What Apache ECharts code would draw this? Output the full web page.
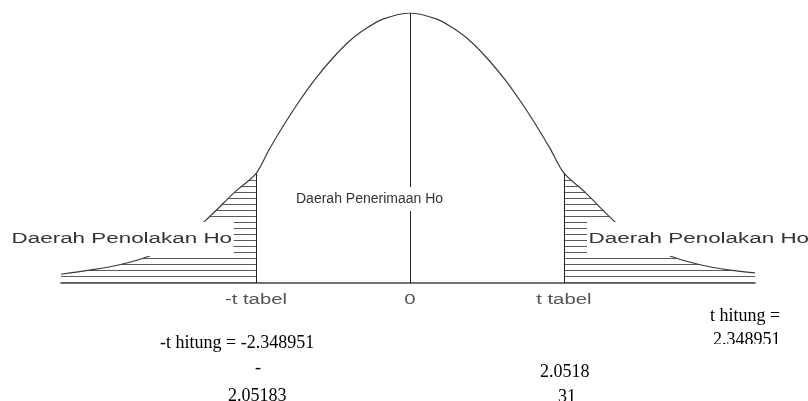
<!DOCTYPE html>
<html>
<head>
<meta charset="utf-8">
<script src="https://cdn.jsdelivr.net/npm/echarts@6/dist/echarts.min.js"></script>
<style>
html, body { margin: 0; padding: 0; background: #fff; }
#main { width: 808px; height: 401px; }
</style>
</head>
<body>
<div id="main"></div>
<script>
// values
var tTabel = 2.0518;
var tValues = [-4.65, -4.27, -3.87, -3.47, -3.07, -2.73, -2.33, -2.0518, -1.87, -1.67, -1.47, -1.27, -1.03, -0.8, -0.57, -0.36, 0,
    0.36, 0.57, 0.8, 1.03, 1.27, 1.47, 1.67, 1.87, 2.0518, 2.33, 2.73, 3.07, 3.47, 3.87, 4.27, 4.6];
var density = [0.013, 0.019, 0.027, 0.040, 0.062, 0.092, 0.135, 0.162, 0.199, 0.236, 0.270, 0.301, 0.333, 0.359, 0.378, 0.391, 0.400,
    0.391, 0.378, 0.359, 0.333, 0.301, 0.270, 0.236, 0.199, 0.163, 0.135, 0.091, 0.061, 0.040, 0.027, 0.019, 0.015];
var tickValues = [-tTabel, 0, tTabel];
var tickLabels = ['-t tabel', '0', 't tabel'];
var regionLabels = ['Daerah Penolakan Ho', 'Daerah Penerimaan Ho', 'Daerah Penolakan Ho'];
var notes = ['-t hitung = -2.348951', '-', '2.05183', '2.0518', '31', 't hitung =', '2.348951'];

var curve = tValues.map(function(t, i) { return [t, density[i]]; });
var leftTail = curve.filter(function(p) { return p[0] <= -tTabel; });
var rightTail = curve.filter(function(p) { return p[0] >= tTabel; });
var yAtT = density[tValues.indexOf(tTabel)];
var yAtMinusT = density[tValues.indexOf(-tTabel)];

// horizontal hatch for the rejection areas
var hatch = document.createElement('canvas');
hatch.width = 6;
hatch.height = 6;
var ctx = hatch.getContext('2d');
ctx.fillStyle = '#5a5a5a';
ctx.fillRect(0, 0, 6, 1);
var hatchFill = { image: hatch, repeat: 'repeat' };

var myChart = echarts.init(document.getElementById('main'));

var tailSeries = function(data) {
    return {
        type: 'line',
        data: data,
        smooth: 0.3,
        symbol: 'none',
        silent: true,
        lineStyle: { width: 0 },
        areaStyle: { color: hatchFill, opacity: 1 },
        z: 1
    };
};

myChart.setOption({
    animation: false,
    grid: { left: 61, right: 53, top: 13, bottom: 118 },
    xAxis: {
        type: 'value',
        min: -4.65,
        max: 4.6,
        axisLine: { show: true, lineStyle: { color: '#444', width: 1.5 } },
        axisTick: { show: false },
        axisLabel: { show: false },
        splitLine: { show: false }
    },
    yAxis: {
        type: 'value',
        min: 0,
        max: 0.4,
        show: false
    },
    series: [
        tailSeries(leftTail),
        tailSeries(rightTail),
        {
            type: 'line',
            data: curve,
            smooth: 0.3,
            symbol: 'none',
            silent: true,
            lineStyle: { color: '#3a3a3a', width: 1.2 },
            z: 3,
            markLine: {
                silent: true,
                symbol: 'none',
                label: { show: false },
                lineStyle: { color: '#222', width: 1, type: 'solid' },
                data: [
                    [{ coord: [-tTabel, 0] }, { coord: [-tTabel, yAtMinusT] }],
                    [{ coord: [0, 0] }, { coord: [0, 0.4] }],
                    [{ coord: [tTabel, 0] }, { coord: [tTabel, yAtT] }]
                ]
            }
        }
    ]
});

var sans = '"Liberation Sans", Arial, sans-serif';
var serif = '"Liberation Serif", "Times New Roman", serif';

function boxLabel(text, x, y) {
    return {
        type: 'text', x: x, y: y, scaleX: 1.6, z: 100,
        style: {
            text: text, font: '14px ' + sans, fill: '#333',
            textVerticalAlign: 'middle', backgroundColor: '#fff', padding: [10, 1]
        }
    };
}
function note(text, x, y, align) {
    return {
        type: 'text', x: x, y: y, z: 100,
        style: { text: text, font: '18px ' + serif, fill: '#000', textAlign: align || 'left', textVerticalAlign: 'middle' }
    };
}

var graphics = [
    boxLabel(regionLabels[0], 10, 239),
    {
        type: 'text', x: 295, y: 199, z: 100,
        style: {
            text: regionLabels[1], font: '14px ' + sans, fill: '#333',
            textVerticalAlign: 'middle', backgroundColor: '#fff', padding: [5, 1]
        }
    },
    boxLabel(regionLabels[2], 587, 239)
];
tickValues.forEach(function(v, i) {
    graphics.push({
        type: 'text', x: myChart.convertToPixel({ xAxisIndex: 0 }, v), y: 300, scaleX: 1.45, z: 100,
        style: { text: tickLabels[i], font: '14px ' + sans, fill: '#555', textAlign: 'center', textVerticalAlign: 'middle' }
    });
});
graphics.push(
    note(notes[0], 160, 343),
    note(notes[1], 258, 368, 'center'),
    note(notes[2], 228, 396),
    note(notes[3], 540, 372),
    note(notes[4], 567, 397, 'center'),
    note(notes[5], 710, 316),
    note(notes[6], 713, 340),
    { type: 'rect', z: 101, shape: { x: 700, y: 344, width: 108, height: 18 }, style: { fill: '#fff' } }
);
myChart.setOption({ graphic: graphics });

window.onresize = function() {
    myChart.resize();
};
</script>
</body>
</html>
